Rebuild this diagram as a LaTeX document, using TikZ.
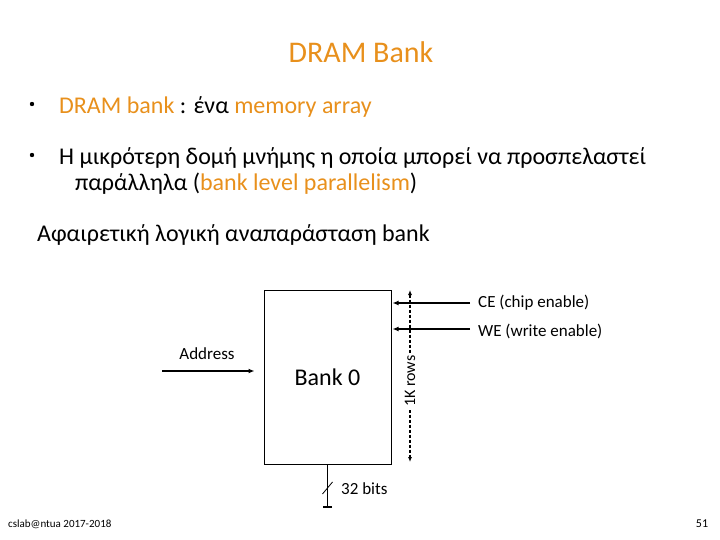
\documentclass[tikz,border=0pt]{standalone}
\usepackage{fontspec}
\setmainfont{Carlito}
\usetikzlibrary{arrows.meta}
\definecolor{slideorange}{HTML}{E8901C}
\def\hl#1{\textcolor{slideorange}{#1}}
\def\bull(#1,#2){\fill (#1,#2) circle [radius=2.2pt];}

\begin{document}
\begin{tikzpicture}[x=1pt,y=-1pt,
  txt/.style={anchor=base west,inner sep=0pt,font=\fontsize{24}{28}\selectfont},
  lbl/.style={inner sep=0pt,font=\fontsize{17}{20}\selectfont},
  sig/.style={line width=1.6pt,-{Latex[length=6pt,width=5pt]}}]
\useasboundingbox (0,0) rectangle (720,540);
\node[anchor=base,inner sep=0pt,font=\fontsize{30}{34}\selectfont,text=slideorange] (title) at (361,63) {DRAM Bank};
\bull(32,104)
\node[txt] (b1) at (59,114) {\hl{DRAM bank} : ένα \hl{memory array}};
\bull(32,155)
\node[txt] (b2) at (59,165) {Η μικρότερη δομή μνήμης η οποία μπορεί να προσπελαστεί};
\node[txt] (b2b) at (75,191) {παράλληλα (\hl{bank level parallelism})};
\node[txt] (abs) at (37,241) {Αφαιρετική λογική αναπαράσταση bank};
% the bank
\node[draw,line width=1pt,minimum width=127pt,minimum height=174pt,inner sep=0pt,
  font=\fontsize{24}{28}\selectfont] (bank) at (327.5,377) {Bank 0};
\coordinate (addr) at (162,371);
\coordinate (ce) at (470,303);
\coordinate (we) at (470,329);
\coordinate (rtop) at (410,290);
\coordinate (rbot) at (410,462);
\coordinate (dout) at (bank.south |- 0,508);
\draw[sig] (addr) -- ([xshift=-9pt]addr -| bank.west);
\draw[sig] (ce) -- ([xshift=1pt]ce -| bank.east);
\draw[sig] (we) -- ([xshift=1pt]we -| bank.east);
\node[lbl,anchor=base] (addrl) at (207,359) {Address};
\node[lbl,anchor=base west] (cel) at (478,307) {CE (chip enable)};
\node[lbl,anchor=base west] (wel) at (478,336) {WE (write enable)};
% 1K rows
\draw[line width=1.2pt,dash pattern=on 3pt off 2pt,{Latex[length=5pt,width=4pt]}-{Latex[length=5pt,width=4pt]}] (rtop) -- (rbot)
  node[pos=0.53,lbl,font=\fontsize{16}{19}\selectfont,fill=white,inner sep=3pt,rotate=90] (rows) {1K rows};
% data out
\draw[line width=1.6pt,-{Bar[width=9pt,line width=1.6pt]}] (bank.south) -- (dout);
\draw[line width=0.8pt] ([shift={(-5,6)}]bank.south |- 0,488) -- ([shift={(5,-6)}]bank.south |- 0,488);
\node[lbl,anchor=base west] (bits) at (341,494) {32 bits};
\node[anchor=base west,inner sep=0pt,font=\fontsize{11}{13}\selectfont] (foot) at (8,527) {cslab@ntua 2017-2018};
\node[anchor=base,inner sep=0pt,font=\fontsize{12}{14}\selectfont] (page) at (702,527) {51};
\end{tikzpicture}
\end{document}
